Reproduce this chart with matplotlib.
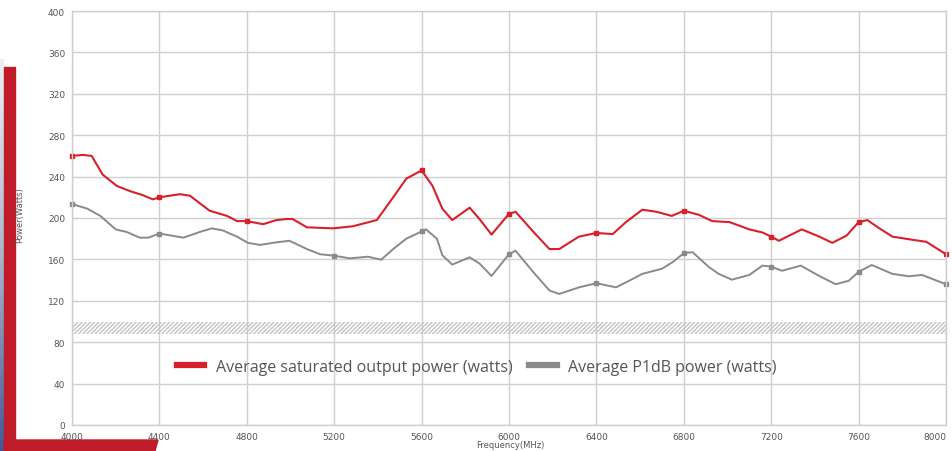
import numpy as np
import matplotlib
matplotlib.use("Agg")
import matplotlib.pyplot as plt
from matplotlib.patches import Rectangle, Polygon

# ---- data ----
sat_freq = [4000, 4050, 4090, 4140, 4205, 4265, 4325, 4370, 4400, 4494, 4540, 4630,
            4710, 4755, 4800, 4875, 4935, 4983, 5010, 5075, 5195, 5285, 5395, 5470,
            5530, 5600, 5650, 5695, 5740, 5820, 5865, 5920, 6000, 6030, 6110, 6185,
            6230, 6320, 6400, 6475, 6535, 6610, 6675, 6745, 6800, 6870, 6930, 7010,
            7100, 7160, 7200, 7235, 7340, 7420, 7480, 7545, 7600, 7640, 7695, 7755,
            7845, 7910, 8000]
sat_power = [260, 261, 260, 242, 231, 226, 222, 218, 220, 223, 221.5, 207,
             202, 197, 197, 194, 198, 199, 199, 191, 190, 192, 198, 220,
             238, 246, 231, 209, 198, 210, 199, 184, 204, 206, 187, 170,
             170, 182, 185.5, 184.5, 196, 208, 206, 202, 207, 203, 197, 196,
             189, 186, 182, 178, 189, 182, 176, 183, 196, 198, 190, 182,
             179, 177, 165]

p1_freq = [4000, 4070, 4130, 4200, 4250, 4310, 4350, 4400, 4510, 4585, 4640, 4690,
           4755, 4805, 4860, 4935, 4995, 5075, 5135, 5200, 5270, 5355, 5415, 5470,
           5530, 5600, 5620, 5670, 5695, 5740, 5820, 5865, 5920, 6000, 6030, 6110,
           6185, 6230, 6320, 6400, 6490, 6550, 6610, 6700, 6750, 6800, 6840, 6915,
           6960, 7020, 7100, 7160, 7200, 7250, 7335, 7420, 7495, 7555, 7600, 7660,
           7755, 7830, 7890, 8000]
p1_power = [213.5, 209, 202, 189, 186.5, 181, 181, 185, 181, 186.5, 190, 188,
            182, 176, 174, 176.5, 178, 170, 165, 163.6, 161, 162.6, 159.7, 170,
            180, 187, 189, 180, 164, 155, 162, 156, 144, 165, 168.4, 148,
            130, 126.6, 133, 137, 133, 139.4, 146, 151, 157.5, 166, 167, 152.6,
            146, 140.4, 145, 154, 153, 149, 154, 144, 136, 139.4, 148, 154.6,
            146, 143.7, 145, 136]

band_low, band_high = 88, 100
x_ticks = [4000, 4400, 4800, 5200, 5600, 6000, 6400, 6800, 7200, 7600, 8000]
x_tick_labels = ["4000", "4400", "4800", "5200", "5600", "6000", "6400", "6800", "7200", "7600", "8000"]
y_ticks = [0, 40, 80, 120, 160, 200, 240, 280, 320, 360, 400]
sat_label = "Average saturated output power (watts)"
p1_label = "Average P1dB power (watts)"

RED = "#d9202a"
GRAY = "#8a8a8a"
GRID = "#cfcfcf"
TXT = "#555555"

fig = plt.figure(figsize=(9.52, 4.52), dpi=100)
W, H = 952, 452
ax = fig.add_axes([72 / W, (H - 426) / H, (946 - 72) / W, (426 - 12) / H])

ax.set_xlim(4000, 8000)
ax.set_ylim(0, 400)
ax.set_xticks(x_ticks)
ax.set_xticklabels(x_tick_labels)
ax.set_yticks(y_ticks)
ax.grid(True, color=GRID, linewidth=1.0)
ax.set_axisbelow(True)
for s in ax.spines.values():
    s.set_color(GRID)
    s.set_linewidth(1.0)
ax.tick_params(length=0, labelsize=6.5, labelcolor=TXT, pad=5)
ax.get_xticklabels()[-1].set_horizontalalignment("right")

ax.axhspan(band_low, band_high, facecolor="none", edgecolor="#c4c4c4",
           hatch="////////", linewidth=0)

sat_marks = [i for i, f in enumerate(sat_freq) if f % 400 == 0]
p1_marks = [i for i, f in enumerate(p1_freq) if f % 400 == 0]

ax.plot(sat_freq, sat_power, color=RED, linewidth=1.5, marker="s",
        markersize=3.2, markevery=sat_marks, solid_joinstyle="round",
        solid_capstyle="round", clip_on=False)
ax.plot(p1_freq, p1_power, color=GRAY, linewidth=1.4, marker="s",
        markersize=3.2, markevery=p1_marks, solid_joinstyle="round",
        solid_capstyle="round", clip_on=False)

h1 = plt.Line2D([], [], color=RED, linewidth=4.5)
h2 = plt.Line2D([], [], color=GRAY, linewidth=4.5)
leg = ax.legend([h1, h2], [sat_label, p1_label], loc="center",
                bbox_to_anchor=(0.463, 0.14), ncol=2, frameon=False,
                prop={"family": "Open Sans", "size": 11.5},
                handlelength=1.75, handletextpad=0.7, columnspacing=1.05)
for t in leg.get_texts():
    t.set_color(TXT)

fig.text(20 / W, 1 - 215 / H, "Power(Watts)", rotation=90, fontsize=6,
         color=TXT, ha="center", va="center")
fig.text(510 / W, 1 - 446 / H, "Frequency(MHz)", fontsize=6, color=TXT,
         ha="center", va="center")

# decorative elements
deco = fig.add_axes([0, 0, 1, 1], zorder=-1)
deco.set_xlim(0, W)
deco.set_ylim(H, 0)
deco.axis("off")
grad = np.linspace(0, 1, 256).reshape(-1, 1)
deco.imshow(grad, extent=[0, 4, H, 60], aspect="auto",
            cmap=matplotlib.colors.LinearSegmentedColormap.from_list(
                "g", ["#eef0f4", "#a9b7cc", "#3d5a99"]), zorder=0)
deco.add_patch(Rectangle((4, 68), 11, H - 68, color="#c01b28", zorder=1))
deco.add_patch(Polygon([(4, 441), (158, 441), (155, H), (4, H)], closed=True,
                       color="#c01b28", zorder=1))

fig.savefig("out.png", dpi=100)
